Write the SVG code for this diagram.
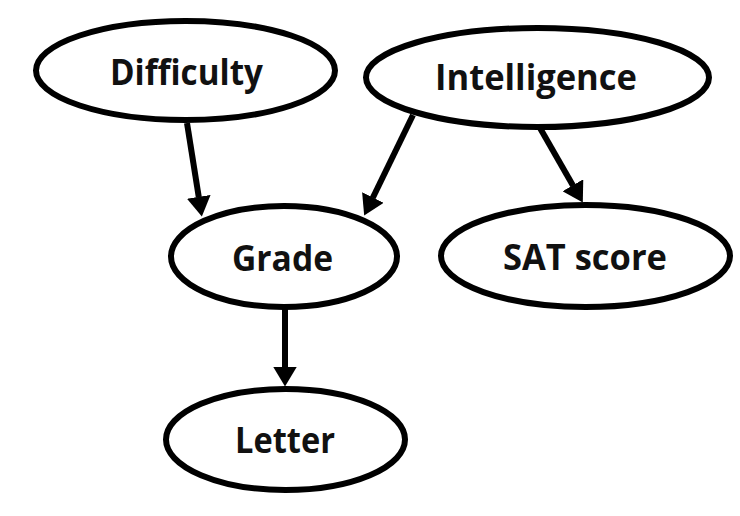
<svg xmlns="http://www.w3.org/2000/svg" width="740" height="516" viewBox="0 0 740 516">
<style>
.node ellipse{fill:#fff;stroke:#000;stroke-width:6}
.node text{font-family:"Open Sans","Liberation Sans",sans-serif;font-weight:700;font-size:35px;fill:#111;text-anchor:middle}
.edge{stroke:#000;stroke-width:6;fill:none}
</style>
<defs>
<marker id="arr" markerUnits="userSpaceOnUse" markerWidth="20" markerHeight="24" viewBox="0 0 20 24" refX="0.5" refY="12" orient="auto">
<path d="M0,0 L20,12 L0,24 z" fill="#000"/>
</marker>
</defs>
<rect width="740" height="516" fill="#fff"/>
<g id="connectors">
<line class="edge" x1="187" y1="123" x2="198.8" y2="197.3" marker-end="url(#arr)"/>
<line class="edge" x1="413" y1="115" x2="372.7" y2="198" marker-end="url(#arr)"/>
<line class="edge" x1="540" y1="128" x2="573.1" y2="185.7" marker-end="url(#arr)"/>
<line class="edge" x1="285" y1="308" x2="285" y2="367" marker-end="url(#arr)"/>
</g>
<g id="difficulty" class="node">
<ellipse cx="185.5" cy="70.5" rx="149.5" ry="49.5"/>
<text x="186.5" y="85" textLength="153" lengthAdjust="spacingAndGlyphs">Difficulty</text>
</g>
<g id="intelligence" class="node">
<ellipse cx="537.5" cy="77.5" rx="171.5" ry="49.5"/>
<text x="536" y="90" textLength="202" lengthAdjust="spacingAndGlyphs">Intelligence</text>
</g>
<g id="grade" class="node">
<ellipse cx="284" cy="256.5" rx="113" ry="50.5"/>
<text x="282.5" y="271" textLength="101" lengthAdjust="spacingAndGlyphs">Grade</text>
</g>
<g id="sat" class="node">
<ellipse cx="585.5" cy="256" rx="144.5" ry="51"/>
<text x="585" y="270" textLength="164" lengthAdjust="spacingAndGlyphs">SAT score</text>
</g>
<g id="letter" class="node">
<ellipse cx="285.5" cy="439.5" rx="119.5" ry="50.5"/>
<text x="285" y="453" textLength="100" lengthAdjust="spacingAndGlyphs">Letter</text>
</g>
</svg>
